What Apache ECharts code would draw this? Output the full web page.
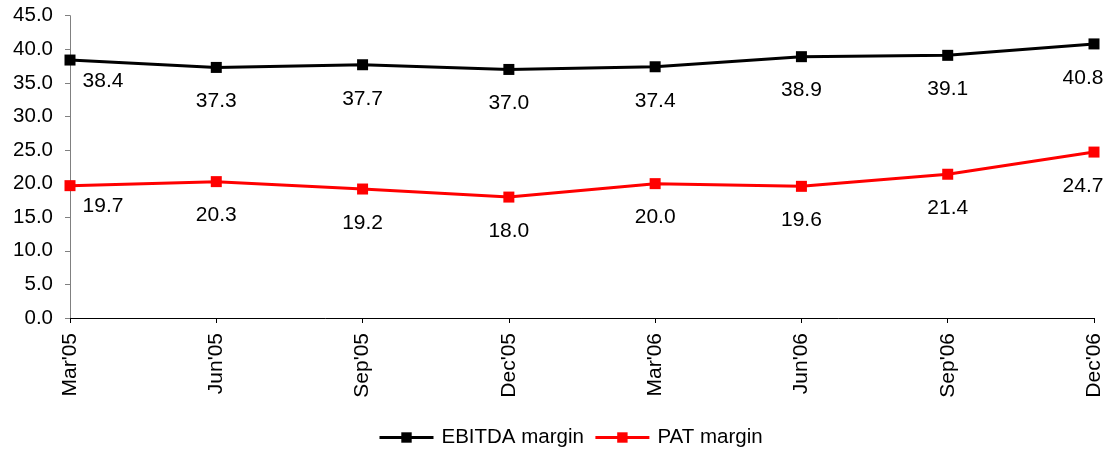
<!DOCTYPE html>
<html>
<head>
<meta charset="utf-8">
<script src="https://cdn.jsdelivr.net/npm/echarts@6/dist/echarts.min.js"></script>
<style>html,body{margin:0;padding:0;background:#fff}#c{width:1110px;height:451px}</style>
</head>
<body>
<div id="c"></div>
<script>
const categories = ["Mar'05","Jun'05","Sep'05","Dec'05","Mar'06","Jun'06","Sep'06","Dec'06"];
const ebitda = [38.4, 37.3, 37.7, 37.0, 37.4, 38.9, 39.1, 40.8];
const pat = [19.7, 20.3, 19.2, 18.0, 20.0, 19.6, 21.4, 24.7];
const yTicks = [0, 5, 10, 15, 20, 25, 30, 35, 40, 45];

function withLabels(arr) {
  return arr.map((v, i) => {
    const d = { value: v };
    if (i === 0) d.label = { offset: [33, -13] };
    if (i === arr.length - 1) d.label = { offset: [-11, 0] };
    return d;
  });
}

const font = 'Liberation Sans, Arial, sans-serif';
const chart = echarts.init(document.getElementById('c'));
chart.setOption({
  animation: false,
  grid: { left: 70, right: 16, top: 15.7, bottom: 133 },
  xAxis: {
    type: 'category',
    data: categories,
    boundaryGap: false,
    axisLine: { lineStyle: { color: '#000', width: 1 } },
    axisTick: { alignWithLabel: true, length: 5, lineStyle: { color: '#000' } },
    axisLabel: { rotate: 90, margin: 15, color: '#000', fontSize: 21, fontFamily: font }
  },
  yAxis: {
    type: 'value',
    min: yTicks[0],
    max: yTicks[yTicks.length - 1],
    interval: 5,
    axisLine: { show: true, lineStyle: { color: '#808080', width: 1 } },
    axisTick: { show: true, length: 5, lineStyle: { color: '#808080' } },
    splitLine: { show: false },
    axisLabel: { margin: 17, color: '#000', fontSize: 20.5, fontFamily: font, formatter: v => v.toFixed(1) }
  },
  legend: {
    top: 422,
    left: 373,
    itemWidth: 54,
    itemHeight: 13,
    itemGap: 10,
    lineStyle: { width: 3 },
    textStyle: { color: '#000', fontSize: 20.5, fontFamily: font, padding: [0, 0, 0, 3] },
    data: ['EBITDA margin', 'PAT margin']
  },
  series: [
    {
      name: 'EBITDA margin',
      type: 'line',
      data: withLabels(ebitda),
      symbol: 'rect',
      symbolSize: 11,
      lineStyle: { color: '#000', width: 3 },
      itemStyle: { color: '#000' },
      label: { show: true, position: 'bottom', distance: 18, color: '#000', fontSize: 21, fontFamily: font, formatter: p => p.value.toFixed(1) }
    },
    {
      name: 'PAT margin',
      type: 'line',
      data: withLabels(pat),
      symbol: 'rect',
      symbolSize: 11,
      lineStyle: { color: '#ff0000', width: 3 },
      itemStyle: { color: '#ff0000' },
      label: { show: true, position: 'bottom', distance: 18, color: '#000', fontSize: 21, fontFamily: font, formatter: p => p.value.toFixed(1) }
    }
  ]
});
</script>
</body>
</html>
